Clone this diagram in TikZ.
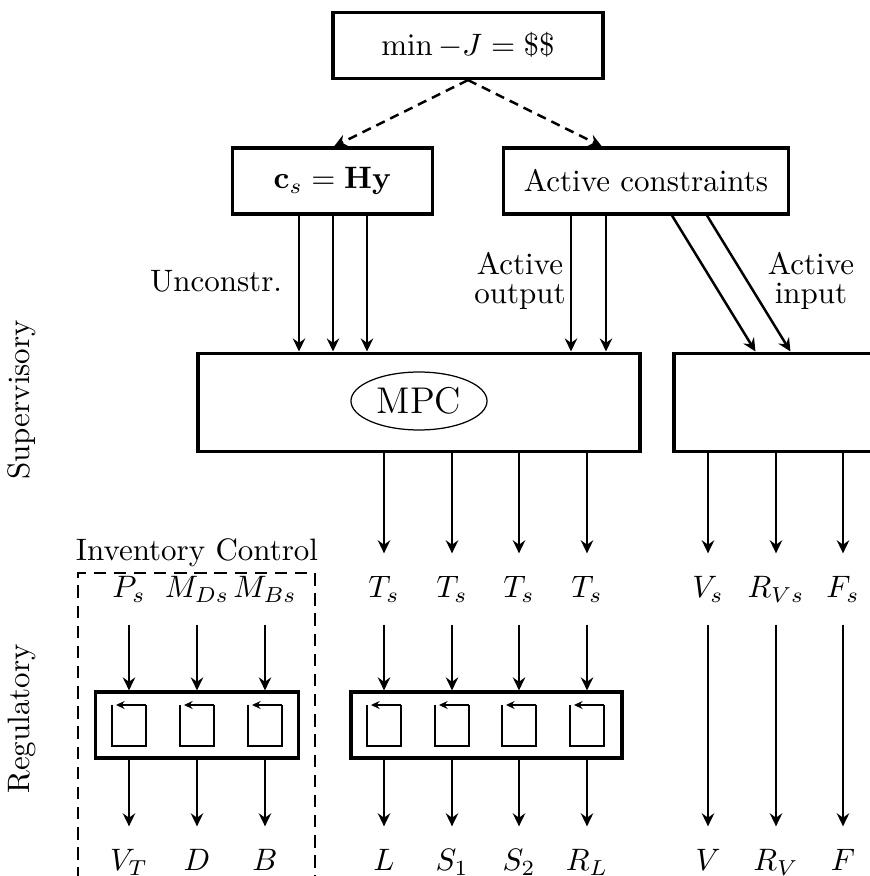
\documentclass[tikz,border=0pt]{standalone}
\usepackage{amsmath,amssymb}
\usepackage{tikz}
\usetikzlibrary{arrows.meta,shapes.geometric,calc}

\begin{document}
\begin{tikzpicture}[
    x=0.3226pt, y=-0.3226pt,
    blk/.style={draw, line width=1pt, minimum height=21.3pt, inner sep=0pt},
    sig/.style={thick, -{Stealth[length=4.2pt,width=4pt,inset=1.4pt]}},
    objarr/.style={thick, dash pattern=on 3pt off 2pt, -{Stealth[length=4.2pt,width=4pt,inset=1.4pt]}},
    pidarr/.style={thick, -{Stealth[length=2.8pt,width=2.6pt,inset=1pt]}},
    lbl/.style={minimum height=22.6pt, text height=1.5ex, text depth=.25ex, inner sep=0pt}
]
    \useasboundingbox (0,0) rectangle (870,876);
    \clip (0,0) rectangle (870,876);

    % Optimisation
    \node[blk, minimum width=87.1pt] (obj) at (468,45.5) {$\min -J = \$\$$};
    \node[blk, minimum width=64.8pt] (cv) at (332.5,181) {$\mathbf{c}_s = \mathbf{Hy}$};
    \node[blk, minimum width=92pt] (act) at (646,181) {Active constraints};
    \draw[objarr] (obj.south) -- ($(cv.north)+(1.5,0)$);
    \draw[objarr] (obj.south) -- ($(act.north west)+(100,0)$);

    % Supervisory layer
    \node[blk, minimum width=142.6pt, minimum height=31.9pt] (mpc) at (419,402.5) {};
    \node[draw, thin, ellipse, minimum width=43.9pt, minimum height=18.7pt, inner sep=0pt, font=\large] (mpclbl) at (419,401) {MPC};
    \node[blk, minimum width=110pt, minimum height=31.9pt] (byp) at (844.5,402.5) {};

    \foreach \dx [count=\i] in {-33.5,0.5,34.5} {
        \coordinate (u\i) at ($(cv.south)+(\dx,0)$);
        \draw[sig] (u\i) -- (u\i |- mpc.north);
    }
    \foreach \dx [count=\i] in {-75,-40} {
        \coordinate (o\i) at ($(act.south)+(\dx,0)$);
        \draw[sig] (o\i) -- (o\i |- mpc.north);
    }
    \draw[sig] ($(act.south)+(26,0)$) -- ($(byp.north west)+(83,0)$);
    \draw[sig] ($(act.south)+(61,0)$) -- ($(byp.north west)+(118,0)$);

    \node[anchor=east] (unc) at (293,281) {Unconstr.};
    \node[align=center] (aout) at (520,281) {Active\\[-2.5pt]output};
    \node[align=center] (ain) at (811,281) {Active\\[-2.5pt]input};

    \node[rotate=90] (sup) at (22,400) {Supervisory};
    \node[rotate=90] (reg) at (22,719) {Regulatory};

    % Setpoints
    \foreach \n/\x in {ts1/384,ts2/452,ts3/519,ts4/587} {
        \node[lbl] (\n) at (\x,589) {$T_s$};
        \draw[sig] (mpc.south -| \n) -- (\n);
    }
    \foreach \n/\x/\t in {vs/708/V_s,rvs/776/R_{Vs},fs/843/F_s} {
        \node[lbl] (\n) at (\x,589) {$\t$};
        \draw[sig] (byp.south -| \n) -- (\n);
    }
    \foreach \n/\x/\t in {ps/129/P_s,mds/197/M_{Ds},mbs/265/M_{Bs}}
        \node[lbl] (\n) at (\x,589) {$\t$};

    % Regulatory layer
    \node[blk, minimum width=65.2pt] (invctl) at (197,725) {};
    \node[blk, minimum width=87.4pt] (tmpctl) at (486.5,725) {};
    \foreach \x in {129,197,265,384,452,519,587} {
        \draw[thin] (\x-17,705) -- (\x-17,746) -- (\x+17,746) -- (\x+17,705);
        \draw[pidarr] (\x+17,705) -- (\x-13,705);
    }
    \foreach \n in {ps,mds,mbs} \draw[sig] (\n) -- (\n |- invctl.north);
    \foreach \n in {ts1,ts2,ts3,ts4} \draw[sig] (\n) -- (\n |- tmpctl.north);

    % Manipulated variables
    \foreach \n/\x/\t in {vt/129/V_T,d/197/D,b/265/B} {
        \node[lbl] (\n) at (\x,862) {$\t$};
        \draw[sig] (\n |- invctl.south) -- (\n);
    }
    \foreach \n/\x/\t in {l/384/L,s1/452/S_1,s2/519/S_2,rl/587/R_L} {
        \node[lbl] (\n) at (\x,862) {$\t$};
        \draw[sig] (\n |- tmpctl.south) -- (\n);
    }
    \node[lbl] (v) at (708,862) {$V$};
    \node[lbl] (rv) at (776,862) {$R_V$};
    \node[lbl] (f) at (843,862) {$F$};
    \draw[sig] (vs) -- (v);
    \draw[sig] (rvs) -- (rv);
    \draw[sig] (fs) -- (f);

    % Inventory control
    \draw[semithick, dash pattern=on 4pt off 2.5pt] (78,900) -- (78,573) -- (315,573) -- (315,900);
    \node (invlbl) at (197,553) {Inventory Control};
\end{tikzpicture}
\end{document}
